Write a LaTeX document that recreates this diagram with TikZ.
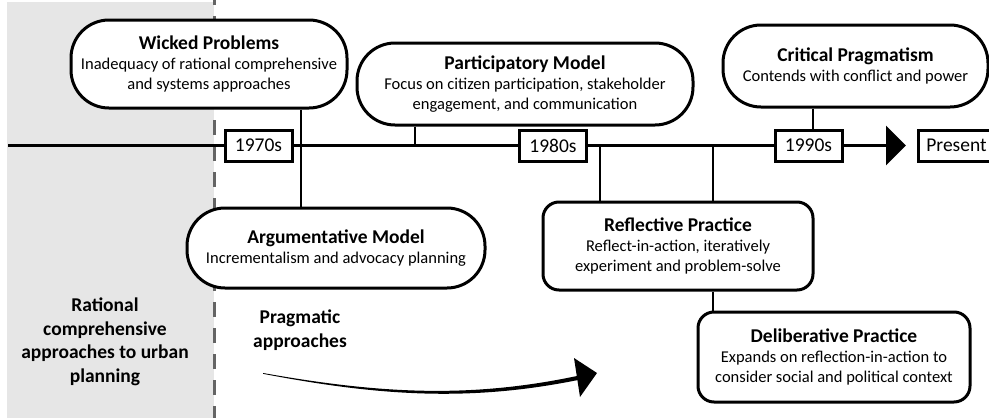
\documentclass[tikz,border=0pt]{standalone}
\usepackage{fontspec}
\setmainfont{Carlito}
\usetikzlibrary{arrows.meta,calc}
\definecolor{leftgray}{RGB}{230,230,230}
\definecolor{dashgray}{RGB}{100,100,100}
\begin{document}
\begin{tikzpicture}[x=1pt,y=-1pt,
  stadium/.style={draw,line width=3pt,fill=white,rounded corners=38pt,align=center,font=\fontsize{16.5}{20}\selectfont,inner sep=0pt},
  boxrc/.style={draw,line width=3pt,fill=white,rounded corners=16pt,align=center,font=\fontsize{16.5}{20}\selectfont,inner sep=0pt},
  year/.style={draw,line width=3pt,fill=white,minimum height=31pt,minimum width=67pt,inner sep=0pt,font=\fontsize{19.5}{23}\selectfont},
  link/.style={line width=2.6pt},
  tl/.style={line width=3pt},
  big/.style={align=center,font=\fontsize{19.5}{23.5}\selectfont\bfseries}
]
\useasboundingbox (0,0) rectangle (989,418);
% left region
\fill[leftgray] (7,2) rectangle (214,418);
\draw[dashgray,line width=3pt,dash pattern=on 15pt off 11pt] (214,-10) -- (214,420);

% event nodes
\node[stadium,minimum width=276pt,minimum height=88pt] (wp) at (209,64)
  {{\fontsize{19.5}{22}\selectfont\bfseries Wicked Problems}\\Inadequacy of rational comprehensive\\and systems approaches};
\node[stadium,minimum width=336pt,minimum height=82pt] (pm) at (525,84)
  {{\fontsize{19.5}{22}\selectfont\bfseries Participatory Model}\\Focus on citizen participation, stakeholder\\engagement, and communication};
\node[stadium,minimum width=265pt,minimum height=82pt] (cp) at (855.5,66)
  {{\fontsize{19.5}{22}\selectfont\bfseries Critical Pragmatism}\\Contends with conflict and power};
\node[stadium,minimum width=298pt,minimum height=80pt] (am) at (336,248)
  {{\fontsize{19.5}{22}\selectfont\bfseries Argumentative Model}\\Incrementalism and advocacy planning};
\node[boxrc,minimum width=270pt,minimum height=88pt] (rp) at (678,246)
  {{\fontsize{19.5}{22}\selectfont\bfseries Reflective Practice}\\Reflect-in-action, iteratively\\experiment and problem-solve};
\node[boxrc,minimum width=272pt,minimum height=90pt] (dp) at (834,357)
  {{\fontsize{19.5}{22}\selectfont\bfseries Deliberative Practice}\\Expands on reflection-in-action to\\consider social and political context};

% year nodes
\node[year] (y70) at (258.5,145.5) {1970s};
\node[year] (y80) at (553,145.5) {1980s};
\node[year] (y90) at (808.5,145.5) {1990s};
\node[year,anchor=west,minimum width=76pt] (ypr) at (917,145.5) {Present};

% timeline
\coordinate (tlstart) at (8,145.5);
\coordinate (tip) at (906,145.5);
\draw[tl] (tlstart) -- (y70.west);
\draw[tl] (y70) -- (y80);
\draw[tl] (y80) -- (y90);
\draw[tl,-{Triangle[length=20pt,width=39pt]}] (y90.east) -- (tip);

% vertical connectors
\coordinate (xa) at (301,0);
\coordinate (xb) at (415,0);
\coordinate (xc) at (600,0);
\coordinate (xd) at (713,0);
\coordinate (xe) at (813,0);
\draw[link] (wp.south -| xa) -- (am.north -| xa);
\draw[link] (pm.south -| xb) -- (xb |- y80);
\draw[link] (xc |- y80) -- (rp.north -| xc);
\draw[link] (xd |- y80) -- (rp.north -| xd);
\draw[link] (rp.south -| xd) -- (dp.north -| xd);
\draw[link] (cp.south -| xe) -- (y90.north -| xe);

% region labels
\node[big] (rat) at (105,342) {Rational\\comprehensive\\approaches to urban\\planning};
\node[big] (prag) at (300,330) {Pragmatic\\approaches};

% sweeping arrow
\fill (263,373) .. controls (380,393.8) and (470,398.5) .. (577,376)
  -- (578,380) .. controls (470,401.8) and (380,396.2) .. (263,373.8) -- cycle;
\fill (574,358) -- (597,373) -- (580,397) -- cycle;
\end{tikzpicture}
\end{document}
